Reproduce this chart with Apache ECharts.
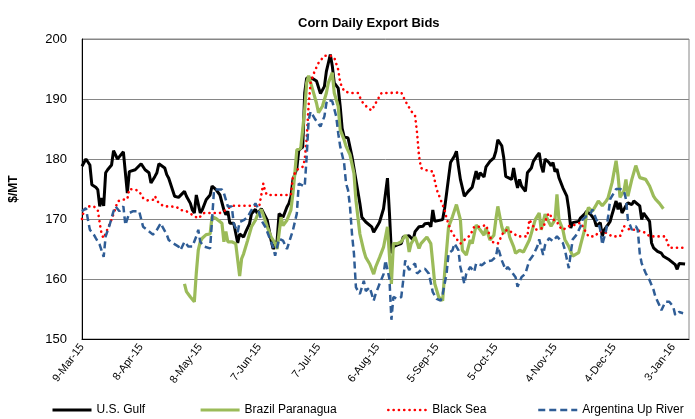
<!DOCTYPE html>
<html>
<head>
<meta charset="utf-8">
<script src="https://cdn.jsdelivr.net/npm/echarts@6/dist/echarts.min.js"></script>
<style>html,body{margin:0;padding:0;background:#fff}#c{width:695px;height:419px}</style>
</head>
<body>
<div id="c"></div>
<script>
// x values: days since 9-Mar-2015
const tickLabels = ['9-Mar-15','8-Apr-15','8-May-15','7-Jun-15','7-Jul-15','6-Aug-15','5-Sep-15','5-Oct-15','4-Nov-15','4-Dec-15','3-Jan-16'];
const yTicks = [150, 160, 170, 180, 190, 200];
const seriesNames = ['U.S. Gulf', 'Brazil Paranagua', 'Black Sea', 'Argentina Up River'];

const usGulf = [[0,178.8],[2,180],[4,179],[5,175.7],[7,175.3],[8,174.9],[9,172.1],[10,173.5],[11,172.2],[12,177.7],[13,178.2],[15,179],[16,181.4],[18,180],[19,180.4],[21,181.2],[23,174.3],[24,177.9],[27,178.2],[28,178.5],[30,179.2],[32,178.2],[34,177.7],[35,176],[37,177.1],[38,177.7],[39,179.2],[42,178.5],[43,177.4],[44,176.8],[47,173.8],[49,173.6],[50,173.6],[52,174.6],[53,173.8],[55,172.6],[56,171.5],[57,171],[58,174],[60,171],[61,171.5],[63,173.2],[65,174],[66,175.5],[68,174.9],[70,174],[71,173.8],[72,171.5],[73,170.7],[74,171.3],[75,169.3],[77,169.3],[79,166],[80,167.5],[82,167],[83,167.8],[85,169.2],[86,170.9],[88,171.6],[89,170.9],[91,171.7],[92,171.5],[94,169.8],[96,166.4],[97,165],[99,166.4],[100,170.9],[102,170.3],[104,172],[105,172.6],[106,173.7],[107,176.5],[109,178.4],[110,181.5],[112,182],[113,191],[114,193.5],[115,193.2],[117,193.4],[119,193],[120,192.7],[121,190.9],[123,192.1],[124,194.6],[125,196],[126,197.4],[127,195.5],[128,192.7],[130,191.8],[131,188.8],[132,185.1],[133,183.7],[135,183.5],[136,183.7],[137,180.4],[139,176.5],[141,172.6],[142,170.3],[144,169.5],[145,169.8],[147,168.7],[148,167.8],[150,168.9],[151,169.5],[152,169.2],[153,171.7],[155,176.8],[156,171],[157,164.3],[158,165.4],[160,165.7],[162,165.9],[163,167],[164,166.8],[166,167.2],[168,166.5],[169,167.9],[171,168.7],[173,168.8],[174,169.2],[176,169.3],[177,168.7],[178,171.5],[179,169.6],[180,169.7],[183,169.9],[184,171.8],[185,174.3],[187,179.4],[189,180.5],[190,181.3],[191,178.8],[192,176.6],[194,173.8],[196,174.6],[197,174.3],[198,175.3],[200,178],[201,176.6],[202,177.7],[204,177],[205,178.7],[207,179.6],[209,180.2],[210,181.3],[211,183.2],[213,182.2],[214,180.2],[215,177.1],[216,176.8],[218,176.6],[219,178.5],[220,176.6],[221,175.2],[222,176.6],[223,175.5],[225,174.6],[226,177.7],[228,178.5],[229,179.6],[231,180.6],[232,181],[233,178.9],[234,177.8],[235,180],[237,179.4],[238,178.9],[239,179.4],[240,177.9],[241,178.3],[242,176.9],[244,175.2],[246,173.8],[247,171.6],[248,168.5],[249,169.4],[250,169.1],[252,169.6],[253,170.2],[255,170.8],[256,171.3],[257,171],[258,170.8],[260,169.9],[261,168.8],[263,169.4],[264,167.1],[265,168.2],[267,169.1],[268,169.6],[269,170.8],[271,173],[272,171.6],[273,172.7],[274,171],[276,172.2],[277,172.7],[279,172.4],[280,173],[281,173.3],[283,172.2],[284,169.9],[285,171],[286,170.5],[288,169.6],[289,166],[290,165.2],[292,164.6],[294,164.3],[295,163.8],[296,164],[298,163.2],[299,162.9],[301,162.4],[302,161.6],[303,162.6],[304,162.7],[306,162.5]];

const brazil = [[52,159.2],[53,157.9],[55,157],[57,156.2],[58,161],[59,164.8],[60,166.2],[61,166.8],[63,167.4],[65,167.5],[66,170.4],[68,170.1],[71,169.3],[72,166.2],[73,167.9],[74,166.2],[76,166.2],[78,165.9],[80,160.5],[81,163.4],[82,164.2],[84,166.4],[86,168.7],[88,169.8],[89,170.6],[91,171.6],[92,171.3],[94,168.7],[96,167],[98,165.9],[99,165],[101,170.3],[102,168.9],[104,169.8],[106,171.5],[107,174.2],[108,177.6],[109,181.5],[111,181.8],[112,181.5],[113,188.2],[114,192.7],[115,193.9],[117,191.6],[119,189.3],[120,187.7],[122,188.8],[124,191],[125,192.7],[127,194.4],[128,191],[130,188.8],[131,184.9],[133,183.2],[134,182.1],[136,180.7],[138,177.6],[139,173.1],[141,167.5],[143,164.7],[144,163.6],[146,162.5],[148,160.8],[149,162],[151,163.6],[153,165.3],[155,168.7],[157,159.2],[158,165.9],[160,165.9],[162,166.2],[164,167.3],[165,166.8],[166,164.5],[167,165.9],[169,167],[171,165.1],[172,165.9],[175,167],[177,165.9],[178,162.6],[179,159.2],[181,157],[183,156.4],[184,160.9],[186,168.7],[188,170.4],[190,172.4],[192,169.9],[193,164.8],[195,164],[197,166.5],[198,165.9],[200,169],[202,168.2],[204,167.3],[205,168.5],[207,166.5],[209,167.3],[210,169.9],[211,172.1],[213,168.7],[214,167.6],[216,168.7],[217,167],[219,165.4],[220,164.3],[222,164.8],[224,164.5],[225,164.3],[227,166.5],[228,167.6],[230,169.9],[232,171],[233,168.2],[235,170.8],[237,169.4],[238,168.8],[240,169.9],[241,174.1],[242,169.9],[244,168.2],[245,166.6],[247,165.4],[249,163.8],[250,164],[252,164.4],[253,165.7],[255,168.2],[256,171],[257,171.9],[259,171.3],[261,172.4],[262,173],[264,172.2],[266,173],[267,173.6],[269,176.1],[271,179.7],[272,177.2],[273,173.6],[275,174.7],[276,176.6],[277,173.8],[279,176.6],[281,178.9],[283,176.9],[284,177.2],[286,176.6],[288,175.5],[290,173.8],[291,173.3],[293,172.6],[295,171.7]];

const blackSea = [[0,170],[1,171.5],[3,172.1],[6,172.1],[8,171.5],[9,169.3],[10,167.4],[11,166.8],[12,167.6],[13,167.9],[15,169.9],[17,171.8],[18,172.9],[20,173.2],[23,173.3],[24,175],[27,174.9],[29,174.6],[31,173.5],[33,173.1],[36,173.2],[37,173.8],[39,172.6],[42,172.1],[45,172.1],[48,172],[50,171.5],[53,171.3],[56,170.7],[59,170.1],[62,171],[66,171],[70,171],[73,171.5],[76,172.2],[83,172.2],[90,172.2],[91,172.5],[92,175.9],[93,174.5],[94,174],[101,174],[106,174],[107,177],[109,178.2],[112,178.7],[113,179.8],[114,183.5],[115,189],[116,192.7],[118,194.6],[120,196],[123,197.2],[126,197.2],[128,196.9],[130,194.9],[131,192.7],[133,191.3],[136,191],[140,191],[142,189.6],[145,188.5],[147,188.1],[150,189.9],[152,191],[156,191],[162,191.1],[164,189.7],[167,188],[169,187.2],[170,184.4],[171,180.5],[172,178.5],[175,178.1],[178,177.9],[180,174.9],[182,173.2],[184,171.5],[185,170.1],[187,168.2],[189,167.1],[192,165.9],[194,166.5],[197,167.3],[199,168.7],[202,168.7],[205,169],[206,168.7],[208,166.2],[211,165.9],[214,167.9],[216,168.2],[219,167.6],[221,167.1],[226,167.1],[227,169.9],[230,168.2],[234,168.5],[236,170.5],[237,171],[239,169.9],[241,169.6],[242,168.8],[244,168.2],[247,168.8],[251,169.1],[253,169.4],[255,168.2],[257,167.1],[260,167.1],[263,168],[266,167.7],[269,167.1],[273,167.1],[275,168.8],[278,168.2],[281,168.2],[286,167.7],[288,167.1],[294,167.1],[296,167.1],[298,165.2],[305,165.2]];

const argentina = [[0,171.3],[2,171.8],[3,169.9],[4,168.2],[6,167.4],[7,166.8],[9,165.7],[10,166],[11,163.7],[12,167.1],[14,169],[16,171.3],[17,172.1],[19,171.3],[21,172.1],[22,169],[24,171],[26,171.3],[27,171.5],[29,171.3],[31,168.7],[33,168.2],[34,167.9],[36,167.4],[38,168.2],[40,169.3],[41,168.6],[43,167.4],[44,166.5],[46,166],[49,165.4],[50,164.8],[52,166.2],[54,165.4],[56,165.4],[58,167.1],[59,168.2],[60,166.2],[62,165.4],[65,165.1],[66,169.9],[67,174.9],[68,175.2],[71,174.9],[72,174.3],[73,173.2],[74,172.1],[76,172.1],[77,169.2],[79,167.8],[80,169.5],[82,169.8],[84,170.3],[86,171.5],[88,172.6],[89,172],[91,169.8],[93,168.7],[95,167],[97,165.3],[98,163.9],[100,166.7],[102,166.4],[104,165],[105,165.3],[107,168.1],[109,170.9],[110,175.9],[111,176.2],[113,175.4],[114,180.4],[115,186.5],[116,187.9],[118,186.8],[119,186.3],[121,185.4],[123,187.1],[124,189.3],[125,189.9],[127,189.6],[129,187.1],[130,184.3],[131,182.1],[133,179.3],[134,175.9],[135,174.8],[136,172],[137,167.5],[138,164.2],[139,158.6],[141,157.5],[142,158.6],[143,159.7],[144,158],[146,158.6],[148,156.4],[149,157.5],[151,159.2],[153,160.8],[154,163.1],[156,160],[157,153.2],[158,157],[160,156.7],[162,157],[163,159.8],[164,163.1],[166,161.5],[167,162],[169,162.6],[170,160.9],[172,161.5],[174,161.7],[176,160.9],[178,157.8],[180,156.7],[182,156.4],[183,157.5],[185,160.9],[186,164.3],[188,164.8],[189,165.9],[191,164.8],[192,162],[194,159.2],[195,160.9],[197,162],[199,161.2],[200,162.6],[203,162.3],[205,162.9],[208,163.1],[210,163.7],[211,165.4],[213,163.1],[215,161.5],[216,162],[218,161.2],[220,160.3],[221,158.7],[223,160.3],[225,160.9],[227,163.1],[229,164],[231,165.4],[232,166.6],[234,164],[235,165.7],[237,166.8],[239,166.3],[241,167.1],[242,166.8],[244,166],[245,164.9],[247,161.8],[248,164.3],[249,166.6],[251,167.4],[253,168.8],[254,169.9],[256,170.5],[258,170.8],[259,171.6],[261,169.9],[262,169.4],[263,168.2],[264,165.7],[266,168.2],[267,170.5],[268,173.3],[270,174.4],[271,175],[273,175],[275,174.7],[276,173.3],[277,169.9],[279,168.2],[280,168.5],[281,168.8],[282,168.2],[283,164.3],[284,162.6],[286,161],[288,159.8],[290,158.2],[291,157],[293,155.6],[294,154.8],[296,156.2],[298,156.2],[300,155.4],[301,154],[303,154.5],[305,154.3]];

const FONT = '"Liberation Sans", Arial, sans-serif';
const chart = echarts.init(document.getElementById('c'), null, {renderer: 'canvas'});

function mkLegend(name, left, w) {
  return {
    data: [name], left: left, top: 404, itemWidth: 39, itemHeight: 10, itemGap: 0,
    itemStyle: {opacity: 0},
    lineStyle: {width: w},
    textStyle: {fontFamily: FONT, fontSize: 12, color: '#000'},
    selectedMode: false, padding: 0
  };
}

chart.setOption({
  animation: false,
  backgroundColor: '#fff',
  title: {
    text: 'Corn Daily Export Bids', left: 298, top: 17, padding: 0,
    textStyle: {fontFamily: FONT, fontSize: 13, fontWeight: 'bold', color: '#000'}
  },
  legend: [
    mkLegend(seriesNames[0], 51, 3),
    mkLegend(seriesNames[1], 199, 3.2),
    mkLegend(seriesNames[2], 387, 2.6),
    mkLegend(seriesNames[3], 537, 2.5)
  ],
  grid: {left: 80, right: 6, top: 39, bottom: 80, show: true, borderColor: '#868686', borderWidth: 1},
  xAxis: {
    type: 'value', min: 0, max: 308, interval: 30,
    axisLine: {show: true, lineStyle: {color: '#000', width: 1}},
    axisTick: {show: false},
    splitLine: {show: false},
    axisLabel: {
      rotate: 53, margin: 6, fontFamily: FONT, fontSize: 11, color: '#000', showMaxLabel: false,
      formatter: v => (v % 30 === 0 && v / 30 < tickLabels.length) ? tickLabels[v / 30] : ''
    }
  },
  yAxis: {
    type: 'value', min: yTicks[0], max: yTicks[yTicks.length - 1], interval: 10,
    name: '$/MT', nameLocation: 'middle', nameRotate: 90, nameGap: 62,
    nameTextStyle: {fontFamily: FONT, fontSize: 12, fontWeight: 'bold', color: '#000'},
    axisLine: {show: true, lineStyle: {color: '#000', width: 1}},
    axisTick: {show: false},
    splitLine: {show: true, lineStyle: {color: '#868686', width: 1}},
    axisLabel: {margin: 15, fontFamily: FONT, fontSize: 13, color: '#000'}
  },
  series: [
    {name: seriesNames[0], type: 'line', data: usGulf, symbol: 'none',
     lineStyle: {color: '#000000', width: 3}, itemStyle: {color: '#000000'}},
    {name: seriesNames[1], type: 'line', data: brazil, symbol: 'none',
     lineStyle: {color: '#9BBB59', width: 3.2}, itemStyle: {color: '#9BBB59'}},
    {name: seriesNames[2], type: 'line', data: blackSea, symbol: 'none',
     lineStyle: {color: '#FF0000', width: 2.6, type: [0.1, 5.2], cap: 'round'}, itemStyle: {color: '#FF0000'}},
    {name: seriesNames[3], type: 'line', data: argentina, symbol: 'none',
     lineStyle: {color: '#2F5D96', width: 2.5, type: [7, 4]}, itemStyle: {color: '#2F5D96'}}
  ]
});
</script>
</body>
</html>
